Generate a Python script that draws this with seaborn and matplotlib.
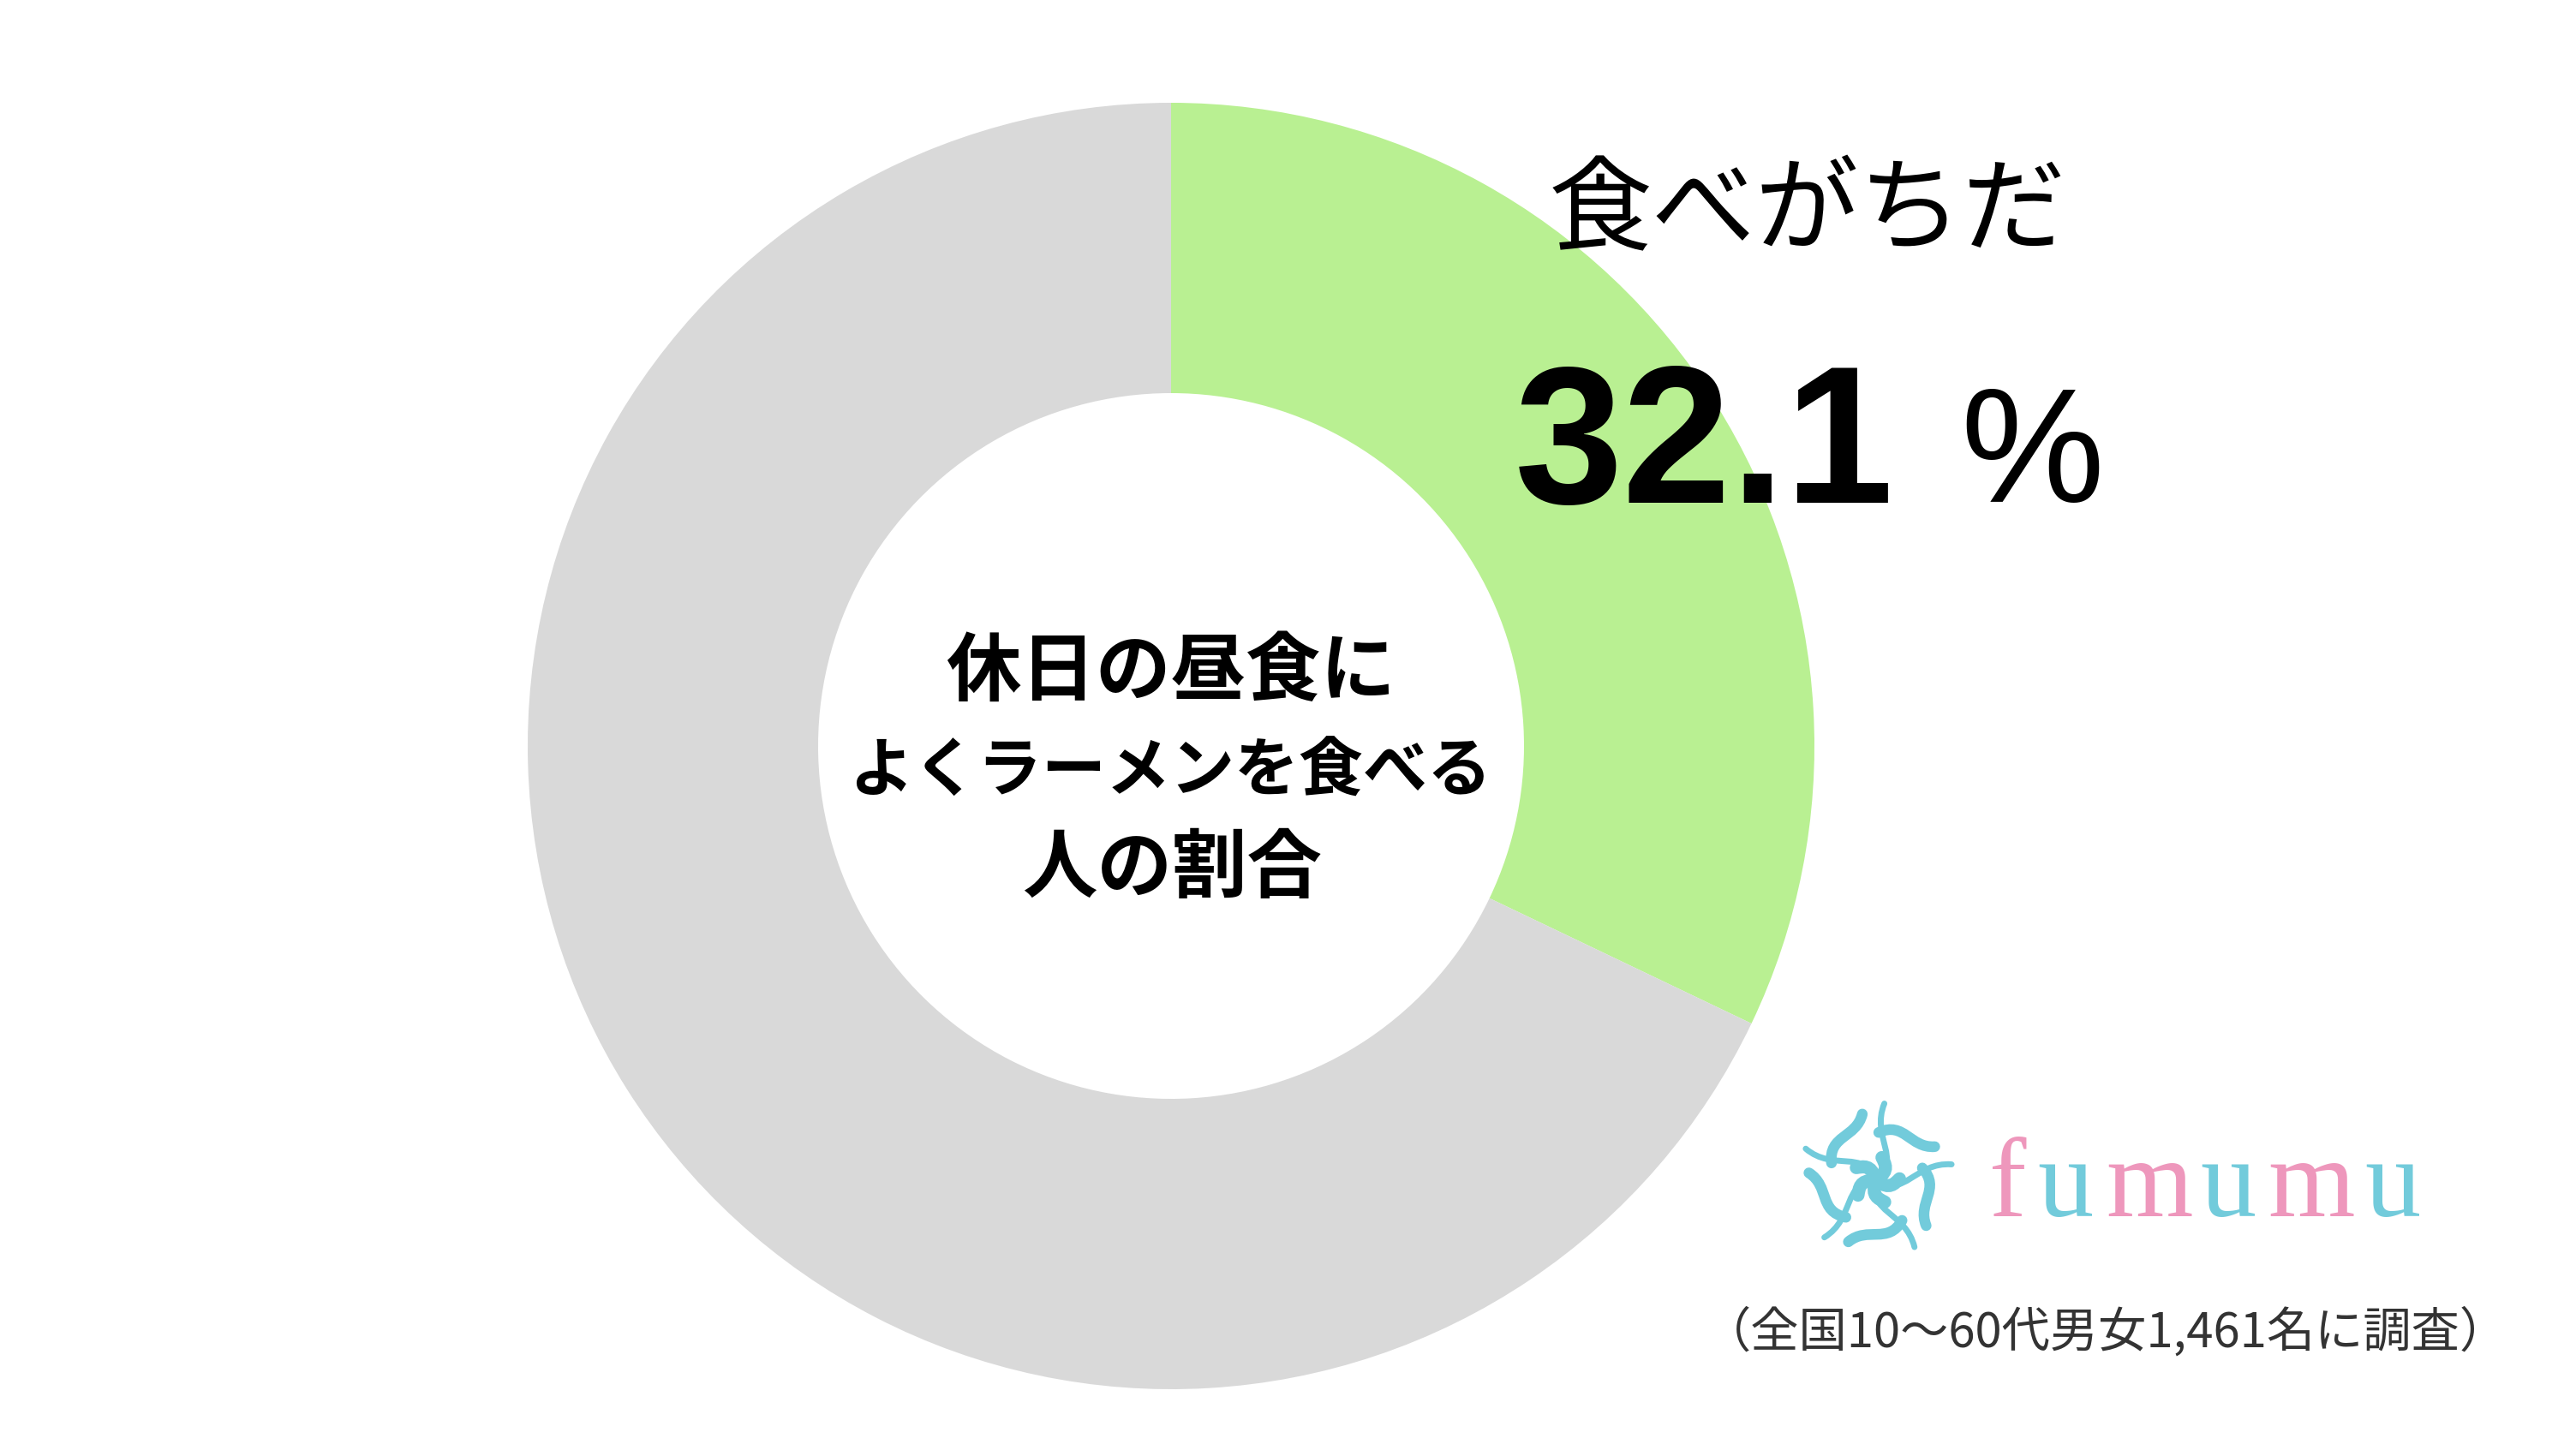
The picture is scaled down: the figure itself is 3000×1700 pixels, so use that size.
import matplotlib
matplotlib.use("Agg")
import matplotlib.pyplot as plt
import seaborn as sns
from matplotlib.path import Path
from matplotlib.patches import PathPatch
from matplotlib.transforms import Affine2D

categories = ["食べがちだ", "その他"]
values = [32.1, 67.9]
slice_colors = ["#B9F092", "#D9D9D9"]
center_lines = ["休日の昼食に", "よくラーメンを食べる", "人の割合"]
value_label = "32.1"
unit_label = "%"
caption = "（全国10～60代男女1,461名に調査）"
brand = "fumumu"
brand_colors = ["#EE97BC", "#72CBDB", "#EE97BC", "#72CBDB", "#EE97BC", "#72CBDB"]

sns.set_theme(style="white")
JP = ["Noto Sans CJK JP", "DejaVu Sans"]
plt.rcParams["font.family"] = JP

W, H = 3000, 1700
fig = plt.figure(figsize=(30, 17), dpi=100, facecolor="white")
ax = fig.add_axes([0, 0, 1, 1])
palette = sns.color_palette(slice_colors)
ax.pie(values, colors=palette, startangle=90, counterclock=False,
       center=(1367, H - 871), radius=751, frame=True,
       wedgeprops=dict(width=751 - 412, linewidth=0))
ax.set_xlim(0, W)
ax.set_ylim(0, H)
ax.set_aspect("equal")
ax.axis("off")

def put(x, y, s, **kw):
    ax.text(x, H - y, s, ha=kw.pop("ha", "center"), va=kw.pop("va", "center"), **kw)

put(1367, 786, center_lines[0], fontsize=63, fontweight="bold", color="black")
put(1366, 902, center_lines[1], fontsize=54, fontweight="bold", color="black")
put(1368, 1016, center_lines[2], fontsize=63, fontweight="bold", color="black")

put(2110, 250, categories[0], fontsize=87, color="black")
put(1768, 587, value_label, ha="left", va="baseline", fontsize=164,
    family="Liberation Sans", fontweight="bold", color="black")
put(2288, 586, unit_label, ha="left", va="baseline", fontsize=136,
    family="Liberation Sans", color="black")

put(2458, 1556, caption, fontsize=40.5, color="#333333")

letter_x = [344, 411, 509, 601, 698, 793]
for ch, lx, c in zip(brand, letter_x, brand_colors):
    put(2000 + lx, 1420, ch, va="baseline", fontsize=94,
        family="Liberation Serif", color=c)

# emblem: five rotated ribbons
cx, cy, R = 2190, H - 1378, 90
teal = "#72CBDB"
M, C4 = Path.MOVETO, Path.CURVE4
arm_a = Path([(0.0, 0.0), (0.32, 0.30), (-0.12, 0.55), (0.02, 1.0)], [M, C4, C4, C4])
arm_b = Path([(-0.02, 0.62), (0.30, 0.80), (0.40, 0.45), (0.72, 0.50)], [M, C4, C4, C4])
arm_c = Path([(0.02, 0.02), (0.16, 0.14), (0.10, 0.22), (0.05, 0.30)], [M, C4, C4, C4])
for i in range(5):
    tr = Affine2D().rotate_deg(-72 * i - 5).scale(R).translate(cx, cy) + ax.transData
    for p, lw in ((arm_a, 5), (arm_b, 9), (arm_c, 11)):
        ax.add_patch(PathPatch(p, fc="none", ec=teal, lw=lw, capstyle="round", transform=tr))

fig.savefig("out.png", dpi=100, facecolor="white")
